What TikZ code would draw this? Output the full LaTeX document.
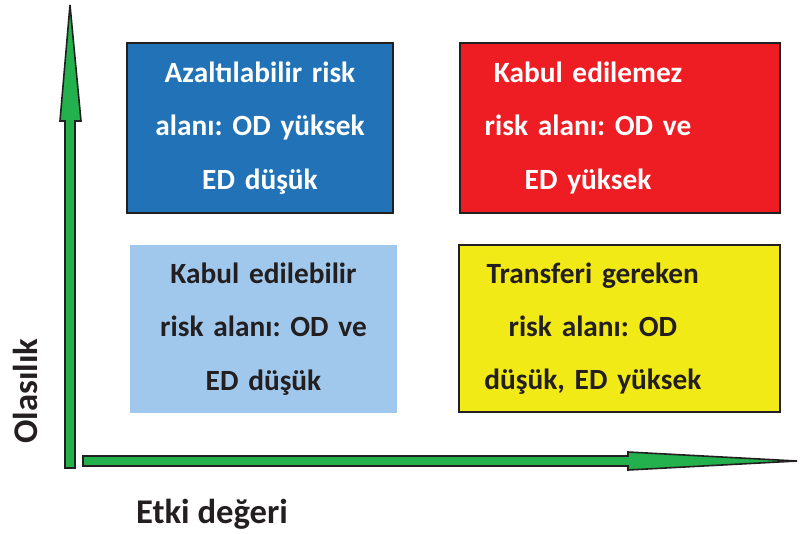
\documentclass[tikz,border=0pt]{standalone}
\usepackage{fontspec}
\setmainfont{Carlito}
\usetikzlibrary{positioning}
\frenchspacing

\definecolor{boxBlue}{RGB}{34,114,183}
\definecolor{boxRed}{RGB}{238,29,36}
\definecolor{boxLight}{RGB}{160,200,236}
\definecolor{boxYellow}{RGB}{242,234,22}
\definecolor{arrowGreen}{RGB}{34,177,76}
\definecolor{edgeDark}{RGB}{35,31,32}

\tikzset{
	riskbox/.style={minimum width=199.5pt, minimum height=127.5pt, inner sep=0pt},
	boxtext/.style={inner sep=0pt, align=center, text width=180pt, font=\bfseries\fontsize{22}{40}\selectfont},
	framed/.style={draw=edgeDark, line width=1.5pt},
	axislabel/.style={font=\bfseries\fontsize{26}{30}\selectfont, inner sep=0pt}}
\tikzset{every picture/.style={line width=0.75pt}}

\begin{document}
\begin{tikzpicture}[x=0.75pt,y=0.75pt,yscale=-1,xscale=1]
	\useasboundingbox (0,0) rectangle (800,533);

	%Shape: Arrow [id:vertical axis]
	\draw [draw=edgeDark, line width=1.2pt, fill=arrowGreen, line join=miter] (65,468) -- (65,121) -- (60,121) -- (70,5) -- (81,121) -- (75,121) -- (75,468) -- cycle ;
	%Shape: Arrow [id:horizontal axis]
	\draw [draw=edgeDark, line width=1.2pt, fill=arrowGreen, line join=miter] (83,456) -- (628,456) -- (628,452) -- (797,461) -- (628,470) -- (628,466) -- (83,466) -- cycle ;

	% Box Nodes
	\node [riskbox, framed, fill=boxBlue] (azalt) at (260,128) {};
	\node [riskbox, framed, fill=boxRed, minimum width=240pt] (kabulz) at (620,128) {};
	\node [riskbox, fill=boxLight, minimum width=200.25pt, minimum height=126pt] (kabulb) at (263.5,329) {};
	\node [riskbox, framed, fill=boxYellow, minimum width=240.75pt, minimum height=125.25pt] (transfer) at (619.5,328.5) {};

	% Text Node
	\node [boxtext, text=white] (azaltT) at (azalt.center) {Azaltılabilir risk\\alanı: OD yüksek\\ED düşük};
	% Text Node
	\node [boxtext, text=white] (kabulzT) at ([xshift=-24pt]kabulz.center) {Kabul edilemez\\risk alanı: OD ve\\ED yüksek};
	% Text Node
	\node [boxtext, text=edgeDark] (kabulbT) at (kabulb.center) {Kabul edilebilir\\risk alanı: OD ve\\ED düşük};
	% Text Node
	\node [boxtext, text=edgeDark] (transferT) at ([xshift=-20pt]transfer.center) {Transferi gereken\\risk alanı: OD\\düşük, ED yüksek};

	% Text Node
	\node [axislabel, rotate=90, text=edgeDark] (olasilik) at (25,391) {Olasılık};
	% Text Node
	\node [axislabel, text=edgeDark] (etki) at (212,514) {Etki değeri};

\end{tikzpicture}
\end{document}
